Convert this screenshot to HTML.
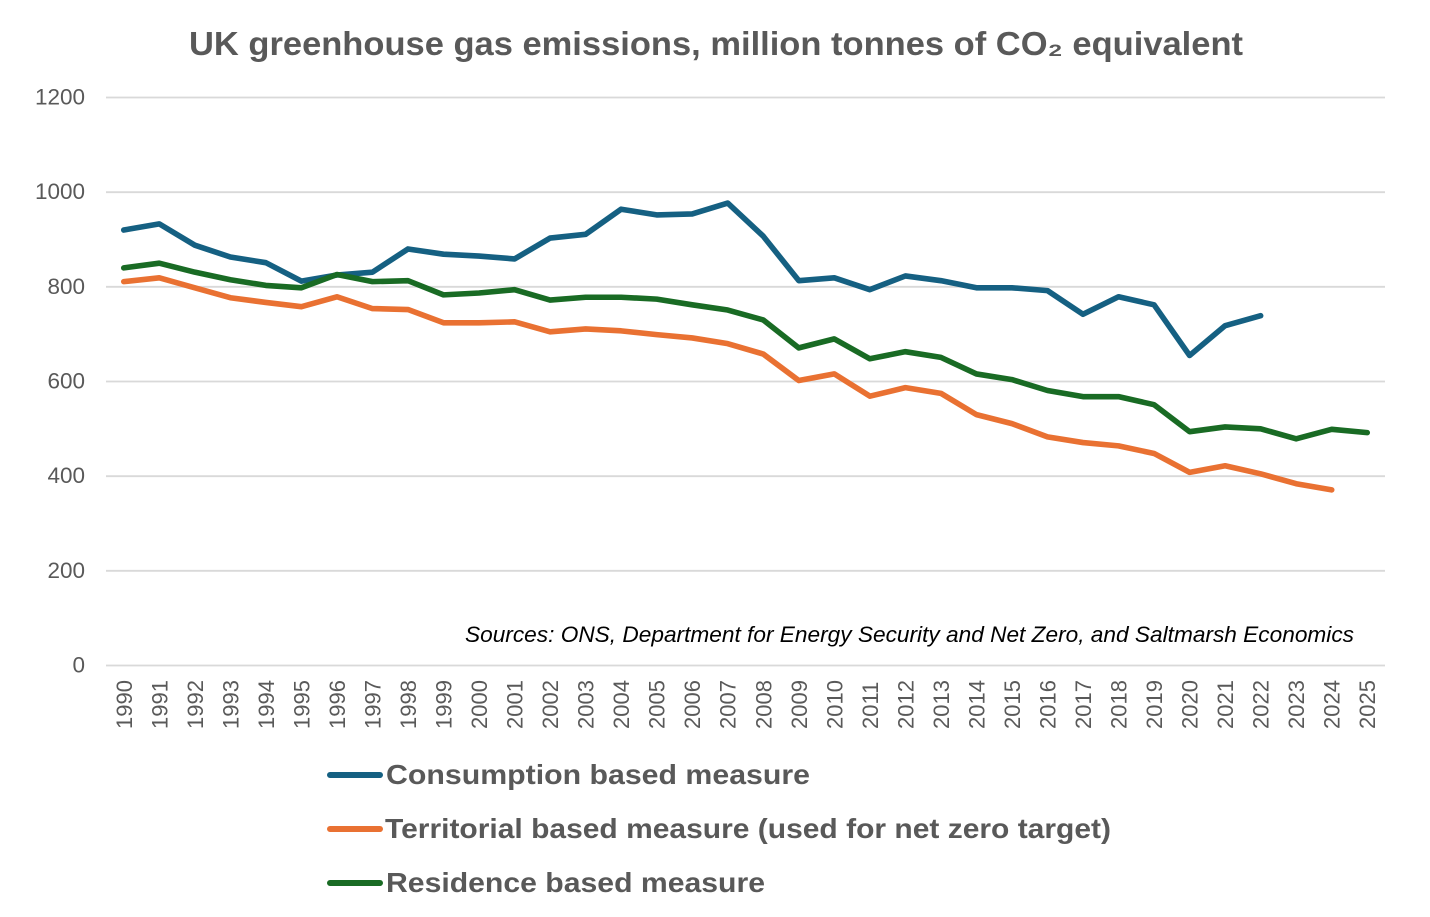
<!DOCTYPE html>
<html lang="en">
<head>
<meta charset="utf-8">
<title>UK greenhouse gas emissions</title>
<style>
html,body{margin:0;padding:0;background:#fff;}
svg{display:block;font-family:"Liberation Sans",sans-serif;}
</style>
</head>
<body>
<svg id="chart" xmlns="http://www.w3.org/2000/svg" width="1430" height="917" viewBox="0 0 1430 917">
  <rect x="0" y="0" width="1430" height="917" fill="#ffffff"/>
  <text x="189" y="55" font-size="33" font-weight="700" fill="#595959" textLength="1054" lengthAdjust="spacingAndGlyphs">UK greenhouse gas emissions, million tonnes of CO₂ equivalent</text>
  <g id="grid"></g>
  <g id="yaxis"></g>
  <g id="xaxis"></g>
  <g id="series"></g>
  <text x="465" y="642" font-size="22" font-style="italic" fill="#000000" textLength="889" lengthAdjust="spacingAndGlyphs">Sources: ONS, Department for Energy Security and Net Zero, and Saltmarsh Economics</text>
  <g>
    <line x1="330" y1="775" x2="380" y2="775" stroke="#156082" stroke-width="6" stroke-linecap="round"/>
    <text x="386" y="784" font-size="28" font-weight="700" fill="#595959" textLength="424" lengthAdjust="spacingAndGlyphs">Consumption based measure</text>
    <line x1="330" y1="829" x2="380" y2="829" stroke="#E97132" stroke-width="6" stroke-linecap="round"/>
    <text x="385" y="838" font-size="28" font-weight="700" fill="#595959" textLength="726" lengthAdjust="spacingAndGlyphs">Territorial based measure (used for net zero target)</text>
    <line x1="330" y1="883" x2="380" y2="883" stroke="#196B24" stroke-width="6" stroke-linecap="round"/>
    <text x="386" y="892" font-size="28" font-weight="700" fill="#595959" textLength="379" lengthAdjust="spacingAndGlyphs">Residence based measure</text>
  </g>
</svg>
<script>
const years = [1990,1991,1992,1993,1994,1995,1996,1997,1998,1999,2000,2001,2002,2003,2004,2005,2006,2007,2008,2009,2010,2011,2012,2013,2014,2015,2016,2017,2018,2019,2020,2021,2022,2023,2024,2025];
const yTicks = [0,200,400,600,800,1000,1200];
const consumption = [920,933,888,863,851,812,825,831,880,869,865,859,903,911,964,952,954,977,907,813,819,794,823,813,798,798,792,742,779,762,655,718,739];
const territorial = [811,819,798,777,767,758,779,754,752,724,724,726,705,711,707,699,692,680,658,602,616,569,587,575,530,511,483,471,464,448,408,422,405,384,371];
const residence = [840,850,831,815,803,798,826,811,813,783,787,794,772,778,778,774,762,751,730,671,690,648,663,651,616,604,581,568,568,551,494,504,500,479,499,492];

const NS = 'http://www.w3.org/2000/svg';
const plotLeft = 106, plotRight = 1385, plotTop = 97.5, plotBottom = 665.5;
const yMax = 1200;
function xScale(i){ return plotLeft + (i + 0.5) * (plotRight - plotLeft) / years.length; }
function yScale(v){ return plotBottom - v / yMax * (plotBottom - plotTop); }

const grid = document.getElementById('grid');
const yaxis = document.getElementById('yaxis');
const xaxis = document.getElementById('xaxis');
const seriesGroup = document.getElementById('series');

yTicks.forEach(function(t){
  const line = document.createElementNS(NS, 'line');
  
  
  line.setAttribute('x1', plotLeft);
  line.setAttribute('x2', plotRight);
  line.setAttribute('y1', yScale(t));
  line.setAttribute('y2', yScale(t));
  line.setAttribute('stroke', '#d9d9d9');
  line.setAttribute('stroke-width', '1.8');
  grid.appendChild(line);

  const label = document.createElementNS(NS, 'text');
  
  
  label.setAttribute('x', 85);
  label.setAttribute('y', yScale(t) + 7);
  label.setAttribute('text-anchor', 'end');
  label.setAttribute('font-size', '22.5');
  label.setAttribute('fill', '#595959');
  label.textContent = t;
  yaxis.appendChild(label);
});

years.forEach(function(yr, i){
  const label = document.createElementNS(NS, 'text');
  
  
  const x = xScale(i) + 8;
  label.setAttribute('x', x);
  label.setAttribute('y', 729);
  label.setAttribute('transform', 'rotate(-90 ' + x + ' 729)');
  label.setAttribute('font-size', '22');
  label.setAttribute('fill', '#595959');
  label.textContent = yr;
  xaxis.appendChild(label);
});

function drawSeries(values, color, name){
  const path = document.createElementNS(NS, 'path');
  
  
  path.setAttribute('d', values.map(function(v, i){
    return (i ? 'L' : 'M') + xScale(i).toFixed(2) + ' ' + yScale(v).toFixed(2);
  }).join(' '));
  path.setAttribute('fill', 'none');
  path.setAttribute('stroke', color);
  path.setAttribute('stroke-width', '5.6');
  path.setAttribute('stroke-linecap', 'round');
  path.setAttribute('stroke-linejoin', 'round');
  seriesGroup.appendChild(path);
}
drawSeries(consumption, '#156082', 'consumption-line');
drawSeries(territorial, '#E97132', 'territorial-line');
drawSeries(residence, '#196B24', 'residence-line');
</script>
</body>
</html>
